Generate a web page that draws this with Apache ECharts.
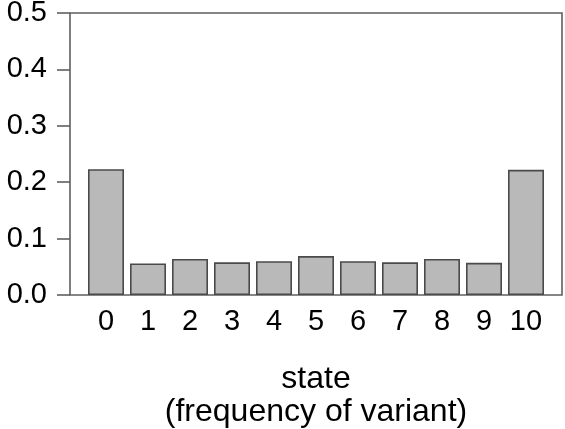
<!DOCTYPE html>
<html>
<head>
<meta charset="utf-8">
<script src="https://cdn.jsdelivr.net/npm/echarts@6/dist/echarts.min.js"></script>
<style>
  html, body { margin: 0; padding: 0; background: #ffffff; }
  #chart { width: 565px; height: 429px; }
</style>
</head>
<body>
<div id="chart"></div>
<script>
// Categories: number of copies of the variant (state)
const states = ['0', '1', '2', '3', '4', '5', '6', '7', '8', '9', '10'];
// Probability of each state
const probs = [0.223, 0.056, 0.064, 0.058, 0.060, 0.069, 0.060, 0.058, 0.064, 0.057, 0.222];
// Y axis range and step
const yMin = 0;
const yMax = 0.5;
const yStep = 0.1;

const FONT = 'Liberation Sans, Arial, Helvetica, sans-serif';
const LINE = '#5f5f5f';

const chart = echarts.init(document.getElementById('chart'), null, { renderer: 'canvas' });

chart.setOption({
  animation: false,
  backgroundColor: '#ffffff',
  grid: [
    // outer frame with the probability axis
    { left: 70, right: 3, top: 13, bottom: 134, containLabel: false, outerBoundsMode: 'none',
      show: true, borderColor: LINE, borderWidth: 1.6, backgroundColor: 'transparent' },
    // inner band where the bars sit
    { left: 85, right: 18, top: 13, bottom: 134, containLabel: false, outerBoundsMode: 'none' }
  ],
  xAxis: [
    { gridIndex: 0, type: 'value', min: 0, max: 1, show: false },
    {
      gridIndex: 1,
      type: 'category',
      data: states,
      boundaryGap: true,
      axisLine: { show: false },
      axisTick: { show: false },
      axisLabel: { color: '#000', fontSize: 29, fontFamily: FONT, margin: 12 },
      name: 'state\n(frequency of variant)',
      nameLocation: 'middle',
      nameGap: 68,
      nameTextStyle: { color: '#000', fontSize: 32, fontFamily: FONT, lineHeight: 33, verticalAlign: 'top' }
    }
  ],
  yAxis: [
    {
      gridIndex: 0,
      type: 'value',
      min: yMin,
      max: yMax,
      interval: yStep,
      axisLine: { show: false },
      axisTick: { show: true, inside: false, length: 13, lineStyle: { color: LINE, width: 1.6 } },
      splitLine: { show: false },
      axisLabel: {
        color: '#000', fontSize: 29, fontFamily: FONT, margin: 23,
        formatter: v => v.toFixed(1)
      }
    },
    { gridIndex: 1, type: 'value', min: yMin, max: yMax, show: false }
  ],
  series: [
    {
      type: 'bar',
      xAxisIndex: 1,
      yAxisIndex: 1,
      data: probs,
      barWidth: 36,
      itemStyle: { color: '#b9b9b9', borderColor: '#4a4a4a', borderWidth: 1.6 }
    }
  ]
});
</script>
</body>
</html>
